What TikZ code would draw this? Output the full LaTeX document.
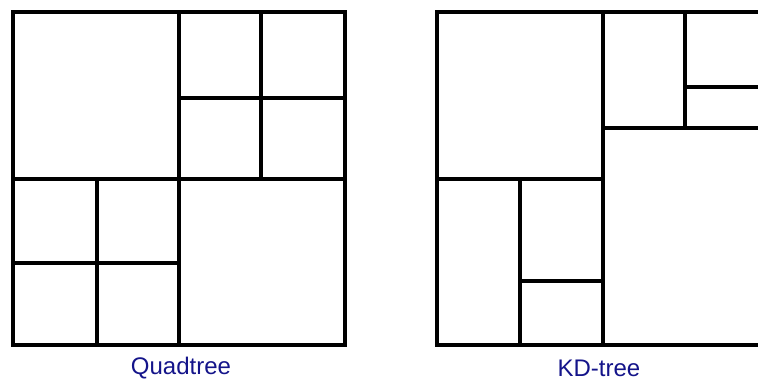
\documentclass[tikz,border=0pt]{standalone}
\usepackage{fontspec}
\setmainfont{Liberation Sans}
\usepackage{tikz}
\usetikzlibrary{positioning}
\definecolor{marine}{HTML}{14148A}
\tikzset{
  trait/.style={line width=3pt,color=black,line cap=rect},
  fin/.style={line width=2.6pt,color=black,line cap=rect},
  legende/.style={font=\fontsize{18}{20}\selectfont,text=marine,inner sep=0pt},
}

\begin{document}
\begin{tikzpicture}[x=0.75pt,y=-0.75pt]
  \useasboundingbox (0,0) rectangle (758,381);
  % quadtree
  \draw[trait] (13,12) rectangle (345,345);
  \draw[trait] (179,12) -- (179,345);
  \draw[trait] (13,179) -- (345,179);
  \draw[trait] (261,12) -- (261,179);
  \draw[fin] (179,98) -- (345,98);
  \draw[trait] (97,179) -- (97,345);
  \draw[fin] (13,263) -- (179,263);
  % kd-tree
  \draw[trait] (437,12) rectangle (772,345);
  \draw[trait] (603,12) -- (603,345);
  \draw[trait] (437,179) -- (603,179);
  \draw[trait] (520,179) -- (520,345);
  \draw[fin] (520,281) -- (603,281);
  \draw[trait] (603,128) -- (772,128);
  \draw[trait] (685,12) -- (685,128);
  \draw[fin] (685,87) -- (772,87);
  % legendes
  \node[legende] (quad) at (181,368) {Quadtree};
  \node[legende] (kd) at (599,368) {KD-tree};
\end{tikzpicture}
\end{document}
